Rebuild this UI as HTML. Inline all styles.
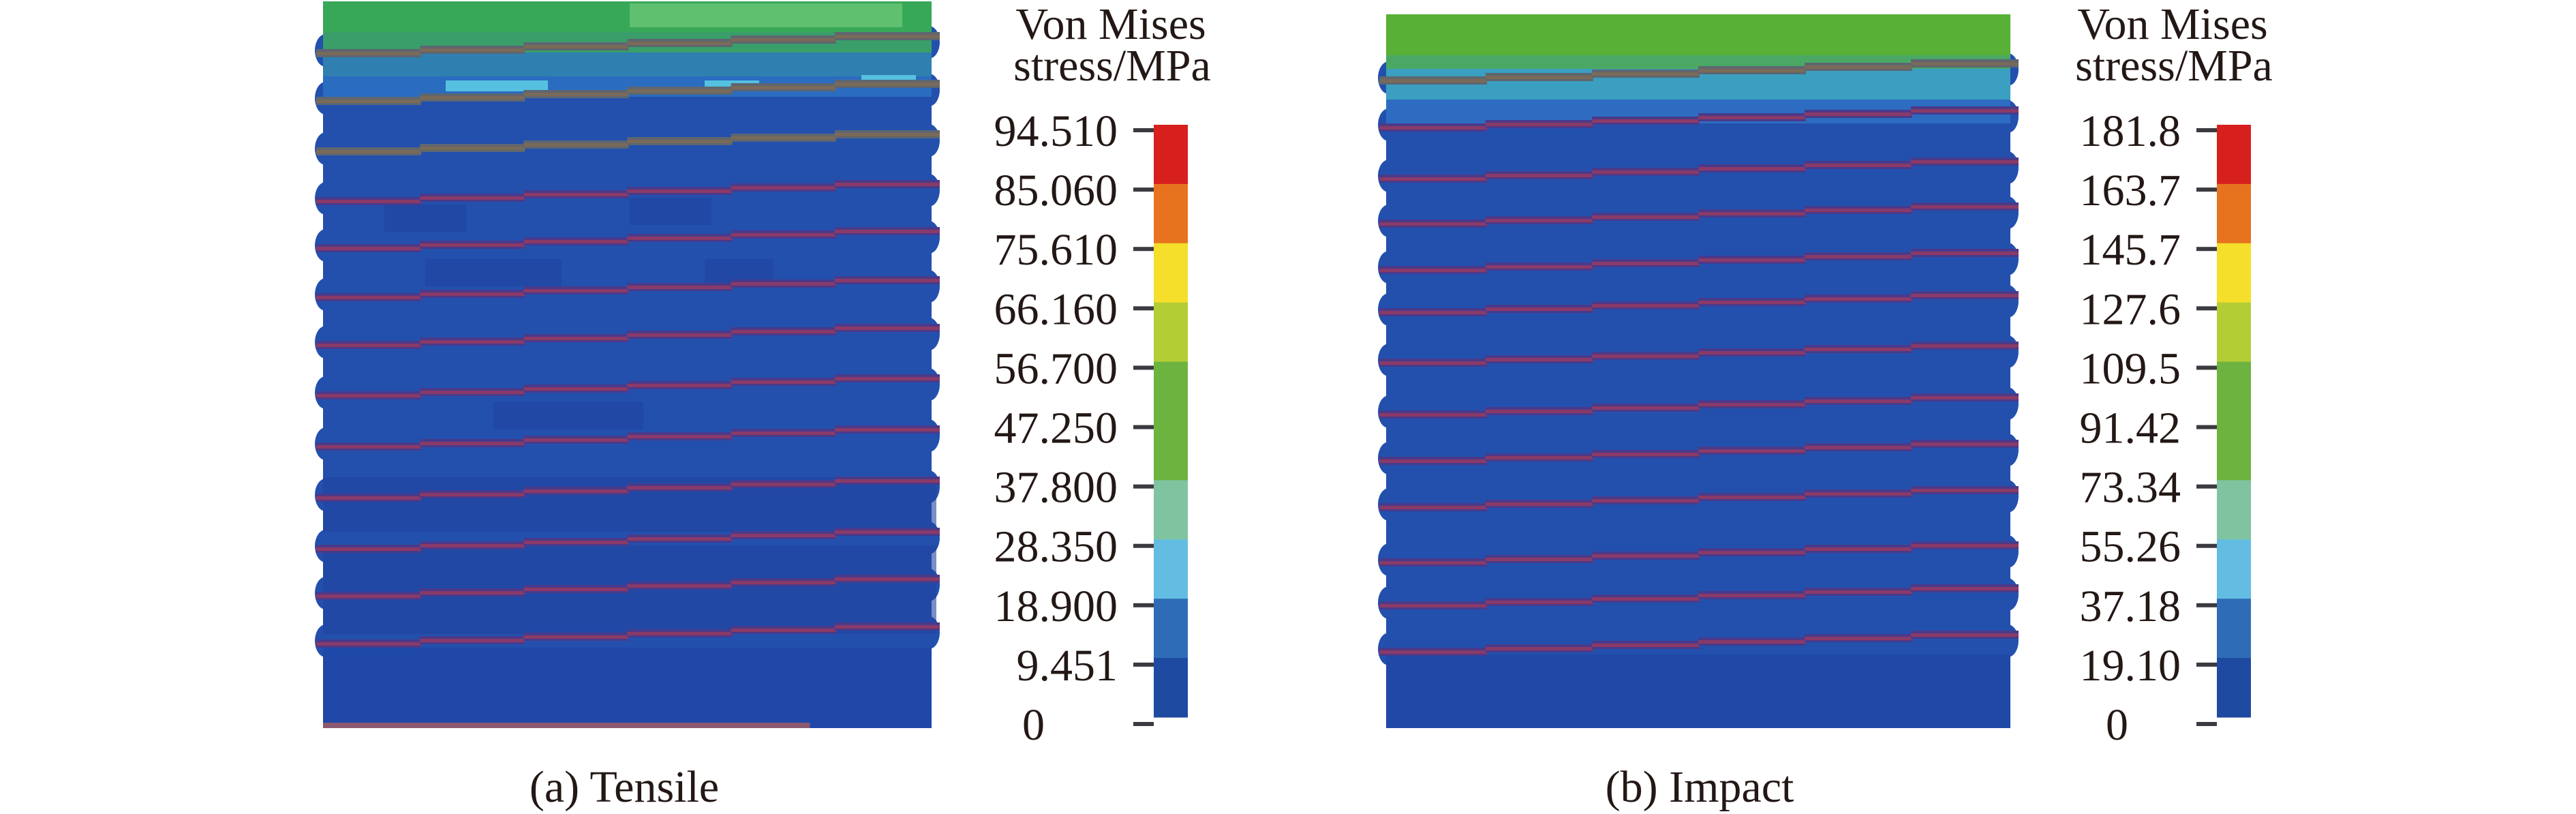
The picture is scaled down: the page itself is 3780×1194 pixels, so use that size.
<!DOCTYPE html>
<html><head><meta charset="utf-8"><style>
html,body{margin:0;padding:0;background:#fff;}
svg{display:block;}
text{font-family:"Liberation Serif",serif;fill:#231815;}
</style></head><body>
<svg id="fig" width="3780" height="1194" viewBox="0 0 3780 1194" xmlns="http://www.w3.org/2000/svg">
<rect width="3780" height="1194" fill="#fff"/>
<g id="panelA"></g>
<g id="panelB"></g>
<g id="cbA"></g>
<g id="cbB"></g>
<text x="1630" y="57" font-size="66" text-anchor="middle">Von Mises</text>
<text x="1632" y="118" font-size="66" text-anchor="middle">stress/MPa</text>
<text x="3188" y="57" font-size="66" text-anchor="middle">Von Mises</text>
<text x="3190" y="118" font-size="66" text-anchor="middle">stress/MPa</text>
<text x="916" y="1176" font-size="66" text-anchor="middle">(a) Tensile</text>
<text x="2494" y="1176" font-size="66" text-anchor="middle">(b) Impact</text>
</svg>
<script>
const bandColors = ["#d7201e","#e8731f","#f5df2a","#b3cd35","#6cb33f","#6cb33f","#80c3a0","#63bde3","#2f6cb7","#1f4aa2"];
const tensileTicks = ["94.510","85.060","75.610","66.160","56.700","47.250","37.800","28.350","18.900","9.451","0"];
const impactTicks = ["181.8","163.7","145.7","127.6","109.5","91.42","73.34","55.26","37.18","19.10","0"];
const tensileStripeRows = [68,138,212,285,354,426,496,570,645,720,795,864,934];
const impactStripeRows = [108,177,252,318,386,448,522,598,666,734,815,878,946];
const NS = "http://www.w3.org/2000/svg";
function mk(parent, tag, attrs){
  const e = document.createElementNS(NS, tag);
  for (const k in attrs) e.setAttribute(k, attrs[k]);
  parent.appendChild(e);
  return e;
}
function colorbar(g, ticks, barX, labelRight, zeroX){
  const top = 183, bottom = 1052, n = bandColors.length;
  const bh = (bottom - top) / n;
  bandColors.forEach((c, i) => {
    const r = mk(g, "rect", {x: barX, y: top + i*bh, width: 50, height: bh + 0.5, fill: c});
    
    
  });
  const t0 = 191, step = 87.1;
  ticks.forEach((lab, i) => {
    const y = t0 + i*step;
    const tk = mk(g, "rect", {x: barX - 30, y: y - 3, width: 30, height: 6, fill: "#3a3a40"});
    
    
    const isZero = i === ticks.length - 1;
    const t = mk(g, "text", {x: isZero ? zeroX : labelRight, y: y + 23, "font-size": 66, "text-anchor": isZero ? "start" : "end"});
    t.textContent = lab;
    
    
  });
}
colorbar(document.getElementById("cbA"), tensileTicks, 1693, 1640, 1500);
colorbar(document.getElementById("cbB"), impactTicks, 3253, 3200, 3090);

function panel(g, x0, x1, y0, y1, rows, kind){
  const base = "#2350ad";
  rows.forEach(r => {
    const bl = mk(g, "ellipse", {cx: x0 + 4, cy: r + 6, rx: 16, ry: 24, fill: base});
    
    
    const br = mk(g, "ellipse", {cx: x1 - 4, cy: r - 6, rx: 16, ry: 24, fill: base});
    
    
  });
  const body = mk(g, "rect", {x: x0, y: y0, width: x1 - x0, height: y1 - y0, fill: base});
  
  
  if (kind === "a") {
    const parts = [[0,45,"#37a858"],[45,75,"#3a9e6a"],[75,110,"#2f7fb0"],[110,140,"#2a6cc0"]];
    parts.forEach(p => {
      const r = mk(g, "rect", {x: x0, y: y0 + p[0], width: x1 - x0, height: p[1] - p[0], fill: p[2]});
      
      
    });
    const hl = mk(g, "rect", {x: x0 + 450, y: 5, width: 400, height: 35, fill: "#5fc070"});
    
    
    [[x0+180,118,150],[x0+560,118,80],[x0+790,110,80]].forEach(p=>{
      const c = mk(g, "rect", {x: p[0], y: p[1], width: p[2], height: 16, fill: "#55c0e0"});
      
      
    });
    [[x0+90,300,120,40],[x0+450,290,120,40],[x0+150,380,200,40],[x0+560,380,100,40],[x0+250,590,220,40],[x0+0,700,900,80],[x0+0,800,900,130]].forEach(p=>{
      const d = mk(g, "rect", {x: p[0], y: p[1], width: p[2], height: p[3], fill: "#1f43a0", opacity: 0.6});
      
      
    });
    const lo = mk(g, "rect", {x: x0, y: 950, width: x1 - x0, height: y1 - 950, fill: "#2048a8"});
    
    
    const bl = mk(g, "rect", {x: x0, y: y1 - 8, width: (x1 - x0)*0.8, height: 8, fill: "#8a5a70"});
    
    
  } else {
    const parts = [[0,60,"#58b036"],[60,80,"#4aa864"],[80,125,"#3a9fc0"],[125,160,"#2d6cc0"]];
    parts.forEach(p => {
      const r = mk(g, "rect", {x: x0, y: y0 + p[0], width: x1 - x0, height: p[1] - p[0], fill: p[2]});
      
      
    });
    const lo = mk(g, "rect", {x: x0, y: 960, width: x1 - x0, height: y1 - 960, fill: "#2048a6"});
    
    
  }
  rows.forEach((r, ri) => {
    const seg = 6, w = (x1 - x0 + 20) / seg;
    for (let s = 0; s < seg; s++) {
      const y = r + 10 - s * 5;
      const grey = (kind === "a" && ri < 3) || (kind === "b" && ri < 1);
      const o = mk(g, "rect", {x: x0 - 10 + s*w, y: y - 6, width: w + 2, height: 12, fill: grey ? "#5e6670" : "#4a3a8a"});
      
      
      const c = mk(g, "rect", {x: x0 - 10 + s*w, y: y - 2, width: w + 2, height: 5, fill: grey ? "#7a6a58" : "#8a3a68"});
      
      
    }
  });
}
panel(document.getElementById("panelA"), 474, 1367, 2, 1068, tensileStripeRows, "a");
panel(document.getElementById("panelB"), 2034, 2950, 21, 1068, impactStripeRows, "b");
</script>
</body></html>
